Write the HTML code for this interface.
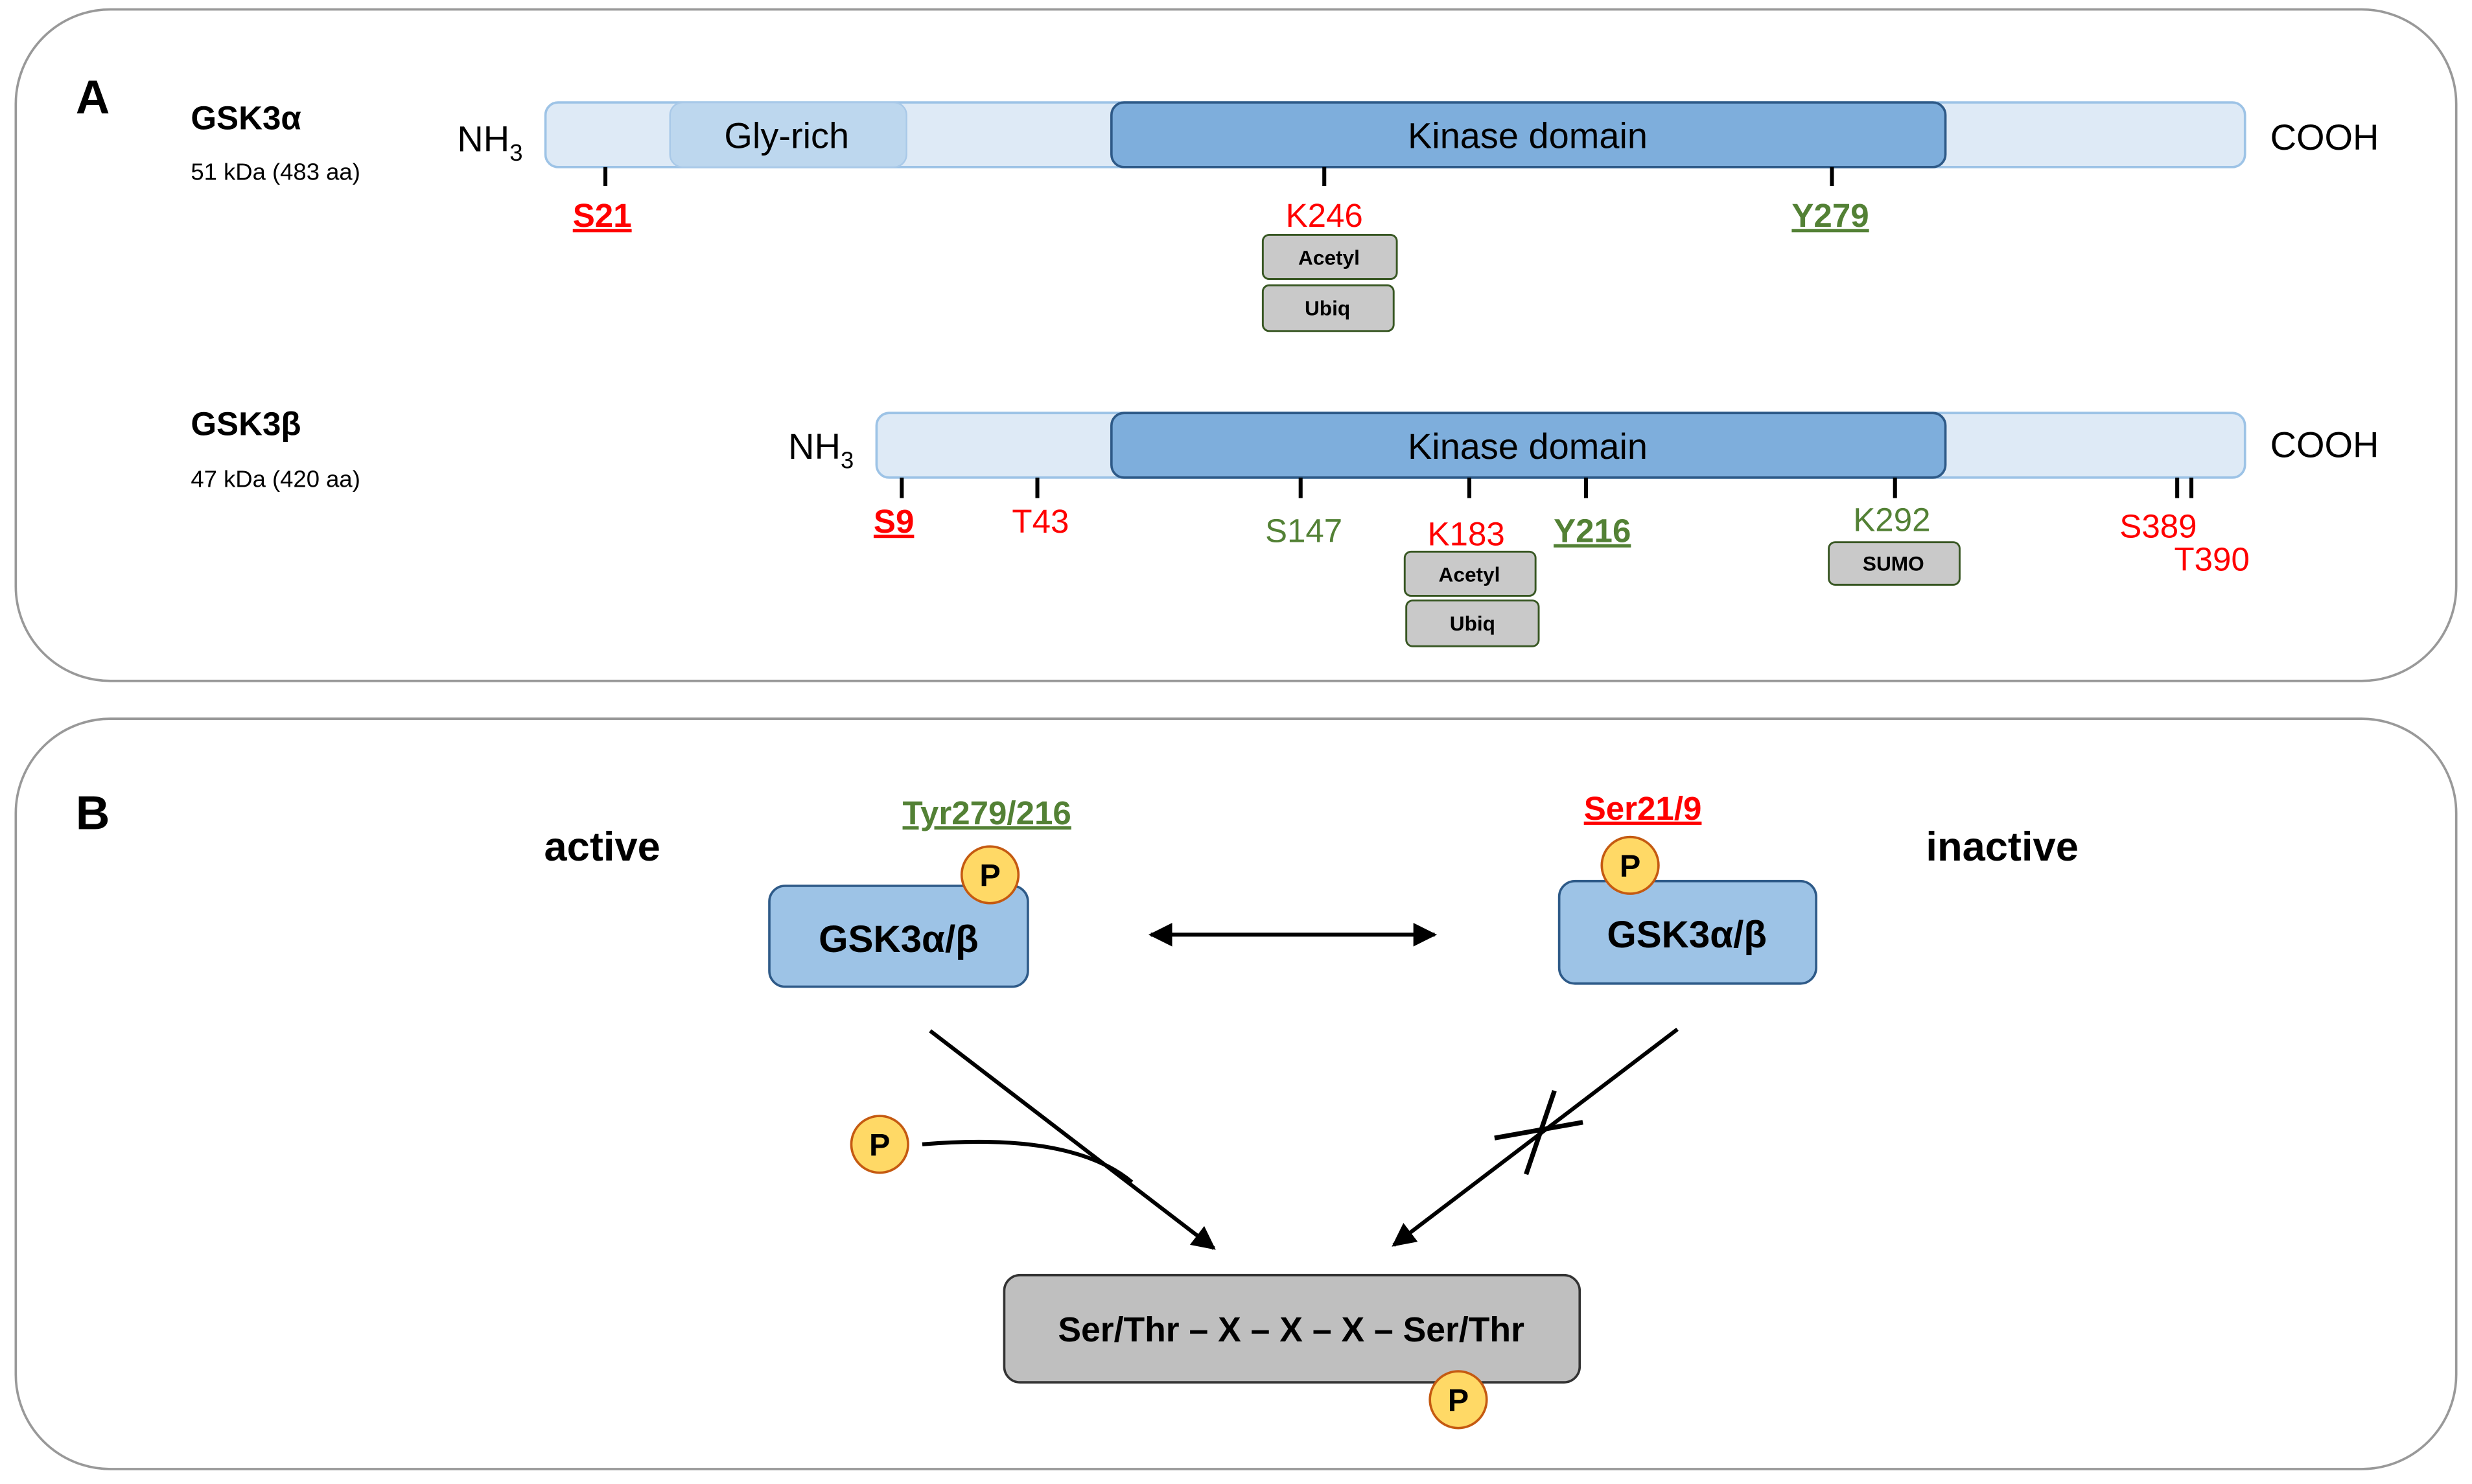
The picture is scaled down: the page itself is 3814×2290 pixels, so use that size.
<!DOCTYPE html>
<html><head><meta charset="utf-8"><style>html,body{margin:0;padding:0;background:#fff}svg{display:block}</style></head><body>
<svg width="3814" height="2290" viewBox="0 0 1568 941.5" preserveAspectRatio="none" xmlns="http://www.w3.org/2000/svg" font-family="Liberation Sans, sans-serif">
<defs><marker id="ah" viewBox="0 0 10 10" refX="9" refY="5" markerWidth="6" markerHeight="6" orient="auto-start-reverse"><path d="M0,0 L10,5 L0,10 z" fill="#000"/></marker></defs>
<rect x="10" y="6" width="1548" height="426" rx="60" fill="#fff" stroke="#999" stroke-width="1.5"/>
<rect x="10" y="456" width="1548" height="476" rx="60" fill="#fff" stroke="#999" stroke-width="1.5"/>
<text x="48" y="72" font-size="30" font-weight="bold">A</text>
<text x="48" y="526" font-size="30" font-weight="bold">B</text>
<text x="121" y="82" font-size="21" font-weight="bold">GSK3α</text>
<text x="121" y="114" font-size="15">51 kDa (483 aa)</text>
<text x="290" y="96" font-size="23">NH<tspan font-size="15" dy="6">3</tspan></text>
<rect x="346" y="65" width="1078" height="41" rx="8" fill="#deeaf6" stroke="#9dc3e6" stroke-width="1.5"/>
<rect x="425" y="65" width="150" height="41" rx="8" fill="#bdd7ee" stroke="#a9c9e8" stroke-width="1"/>
<text x="499" y="94" font-size="23" text-anchor="middle">Gly-rich</text>
<rect x="705" y="65" width="529" height="41" rx="8" fill="#7eaedc" stroke="#2e5a88" stroke-width="1.5"/>
<text x="969" y="94" font-size="23" text-anchor="middle">Kinase domain</text>
<text x="1440" y="95" font-size="23">COOH</text>
<g stroke="#000" stroke-width="2.5"><line x1="384" y1="106" x2="384" y2="118"/><line x1="840" y1="106" x2="840" y2="118"/><line x1="1162" y1="106" x2="1162" y2="118"/></g>
<text x="382" y="144" font-size="21" font-weight="bold" fill="#f00" text-anchor="middle" text-decoration="underline">S21</text>
<text x="840" y="144" font-size="21" fill="#f00" text-anchor="middle">K246</text>
<text x="1161" y="144" font-size="21" font-weight="bold" fill="#538135" text-anchor="middle" text-decoration="underline">Y279</text>
<rect x="801" y="149" width="85" height="28" rx="4" fill="#c9c9c9" stroke="#385723" stroke-width="1.2"/>
<text x="843" y="168" font-size="13" font-weight="bold" text-anchor="middle">Acetyl</text>
<rect x="801" y="181" width="83" height="29" rx="4" fill="#c9c9c9" stroke="#385723" stroke-width="1.2"/>
<text x="842" y="200" font-size="13" font-weight="bold" text-anchor="middle">Ubiq</text>
<text x="121" y="276" font-size="21" font-weight="bold">GSK3β</text>
<text x="121" y="309" font-size="15">47 kDa (420 aa)</text>
<text x="500" y="291" font-size="23">NH<tspan font-size="15" dy="6">3</tspan></text>
<rect x="556" y="262" width="868" height="41" rx="8" fill="#deeaf6" stroke="#9dc3e6" stroke-width="1.5"/>
<rect x="705" y="262" width="529" height="41" rx="8" fill="#7eaedc" stroke="#2e5a88" stroke-width="1.5"/>
<text x="969" y="291" font-size="23" text-anchor="middle">Kinase domain</text>
<text x="1440" y="290" font-size="23">COOH</text>
<g stroke="#000" stroke-width="2.5"><line x1="572" y1="303" x2="572" y2="316"/><line x1="658" y1="303" x2="658" y2="316"/><line x1="825" y1="303" x2="825" y2="316"/><line x1="932" y1="303" x2="932" y2="316"/><line x1="1006" y1="303" x2="1006" y2="316"/><line x1="1202" y1="303" x2="1202" y2="316"/><line x1="1381" y1="303" x2="1381" y2="316"/><line x1="1390" y1="303" x2="1390" y2="316"/></g>
<text x="567" y="338" font-size="21" font-weight="bold" fill="#f00" text-anchor="middle" text-decoration="underline">S9</text>
<text x="660" y="338" font-size="21" fill="#f00" text-anchor="middle">T43</text>
<text x="827" y="344" font-size="21" fill="#538135" text-anchor="middle">S147</text>
<text x="930" y="346" font-size="21" fill="#f00" text-anchor="middle">K183</text>
<text x="1010" y="344" font-size="21" font-weight="bold" fill="#538135" text-anchor="middle" text-decoration="underline">Y216</text>
<text x="1200" y="337" font-size="21" fill="#538135" text-anchor="middle">K292</text>
<text x="1369" y="341" font-size="21" fill="#f00" text-anchor="middle">S389</text>
<text x="1403" y="362" font-size="21" fill="#f00" text-anchor="middle">T390</text>
<rect x="891" y="350" width="83" height="28" rx="4" fill="#c9c9c9" stroke="#385723" stroke-width="1.2"/>
<text x="932" y="369" font-size="13" font-weight="bold" text-anchor="middle">Acetyl</text>
<rect x="892" y="381" width="84" height="29" rx="4" fill="#c9c9c9" stroke="#385723" stroke-width="1.2"/>
<text x="934" y="400" font-size="13" font-weight="bold" text-anchor="middle">Ubiq</text>
<rect x="1160" y="344" width="83" height="27" rx="4" fill="#c9c9c9" stroke="#385723" stroke-width="1.2"/>
<text x="1201" y="362" font-size="13" font-weight="bold" text-anchor="middle">SUMO</text>
<text x="382" y="546" font-size="26" font-weight="bold" text-anchor="middle">active</text>
<text x="1270" y="546" font-size="26" font-weight="bold" text-anchor="middle">inactive</text>
<text x="626" y="523" font-size="21" font-weight="bold" fill="#538135" text-anchor="middle" text-decoration="underline">Tyr279/216</text>
<text x="1042" y="520" font-size="21" font-weight="bold" fill="#f00" text-anchor="middle" text-decoration="underline">Ser21/9</text>
<rect x="488" y="562" width="164" height="64" rx="10" fill="#9dc3e6" stroke="#2e5a88" stroke-width="1.5"/>
<text x="570" y="604" font-size="24" font-weight="bold" text-anchor="middle">GSK3α/β</text>
<rect x="989" y="559" width="163" height="65" rx="10" fill="#9dc3e6" stroke="#2e5a88" stroke-width="1.5"/>
<text x="1070" y="601" font-size="24" font-weight="bold" text-anchor="middle">GSK3α/β</text>
<line x1="730" y1="593" x2="910" y2="593" stroke="#000" stroke-width="2.5" marker-start="url(#ah)" marker-end="url(#ah)"/>
<line x1="590" y1="654" x2="770" y2="792" stroke="#000" stroke-width="2.5" marker-end="url(#ah)"/>
<path d="M585,726 Q680,718 718,750" fill="none" stroke="#000" stroke-width="2.5"/>
<line x1="1064" y1="653" x2="884" y2="790" stroke="#000" stroke-width="2.5" marker-end="url(#ah)"/>
<line x1="948" y1="722" x2="1004" y2="712" stroke="#000" stroke-width="3"/>
<line x1="986" y1="692" x2="968" y2="745" stroke="#000" stroke-width="3"/>
<rect x="637" y="809" width="365" height="68" rx="10" fill="#bfbfbf" stroke="#333" stroke-width="1.5"/>
<text x="819" y="851" font-size="22" font-weight="bold" text-anchor="middle">Ser/Thr – X – X – X – Ser/Thr</text>
<g fill="#ffd966" stroke="#c55a11" stroke-width="1.5">
<circle cx="628" cy="555" r="18"/><circle cx="1034" cy="549" r="18"/><circle cx="558" cy="726" r="18"/><circle cx="925" cy="888" r="18"/></g>
<g font-size="20" font-weight="bold" text-anchor="middle">
<text x="628" y="562">P</text><text x="1034" y="556">P</text><text x="558" y="733">P</text><text x="925" y="895">P</text></g>
</svg>
</body></html>
